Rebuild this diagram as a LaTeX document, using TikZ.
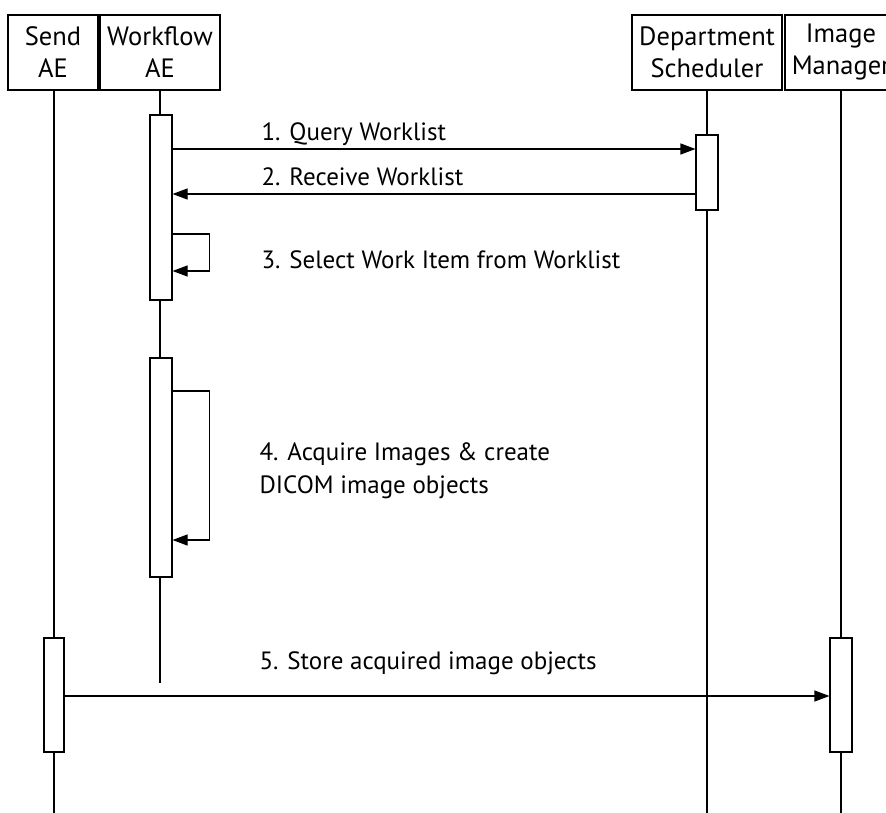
\documentclass[tikz,border=0pt]{standalone}
\usepackage{fontspec}
\setmainfont{PT Sans}
\usetikzlibrary{arrows.meta}
\begin{document}
\begin{tikzpicture}[x=1pt,y=-1pt, line width=1.1pt,
 head/.style={draw, rectangle, align=center, font=\fontsize{26.5}{32}\selectfont, inner sep=0pt, minimum height=75pt},
 bar/.style={draw, fill=white, rectangle, inner sep=0pt},
 msg/.style={-{Triangle[length=15pt,width=11pt]}},
 lbl/.style={anchor=base west, font=\fontsize{25}{30}\selectfont, inner sep=0pt}]
\useasboundingbox (0,0) rectangle (886,813);
\clip (0,0) rectangle (886,813);
% headers
\node[head, minimum width=90pt] (send) at (53,52.5) {Send\\AE};
\node[head, minimum width=120pt] (wf) at (160,52.5) {Workflow\\AE};
\node[head, minimum width=150pt] (dept) at (707,52.5) {Department\\Scheduler};
\node[head, minimum width=112pt] (img) at (841,52.5) {Image\\Manager};
% lifeline ends
\coordinate (sendend) at (54,813);
\coordinate (wfend) at (160,683);
\coordinate (deptend) at (707,813);
\coordinate (imgend) at (841,813);
\draw (send.south -| sendend) -- (sendend);
\draw (wf.south) -- (wfend);
\draw (dept.south) -- (deptend);
\draw (img.south) -- (imgend);
% activation bars
\node[bar, minimum width=22pt, minimum height=185pt] (w1) at (161,207.5) {};
\node[bar, minimum width=22pt, minimum height=219pt] (w2) at (161,467.5) {};
\node[bar, minimum width=22pt, minimum height=75pt] (d1) at (707,172.5) {};
\node[bar, minimum width=20pt, minimum height=114pt] (s1) at (54,695) {};
\node[bar, minimum width=22pt, minimum height=114pt] (i1) at (841,695) {};
% messages
\draw[msg] (w1.east |- 0,149) -- (d1.west |- 0,149);
\draw[msg] (d1.west |- 0,194) -- (w1.east |- 0,194);
\draw[msg] (w1.east |- 0,234) -- ++(37,0) |- (w1.east |- 0,271);
\draw[msg] (w2.east |- 0,391) -- ++(37,0) |- (w2.east |- 0,540);
\draw[msg] (s1.east |- 0,696) -- (i1.west |- 0,696);
% labels
\node[lbl] (l1) at (261,140.5) {1. Query Worklist};
\node[lbl] (l2) at (261,186) {2. Receive Worklist};
\node[lbl] (l3) at (261,268) {3. Select Work Item from Worklist};
\node[lbl] (l4a) at (259,460) {4. Acquire Images \& create};
\node[lbl] (l4b) at (259,493) {DICOM image objects};
\node[lbl] (l5) at (259,669) {5. Store acquired image objects};
\end{tikzpicture}
\end{document}
